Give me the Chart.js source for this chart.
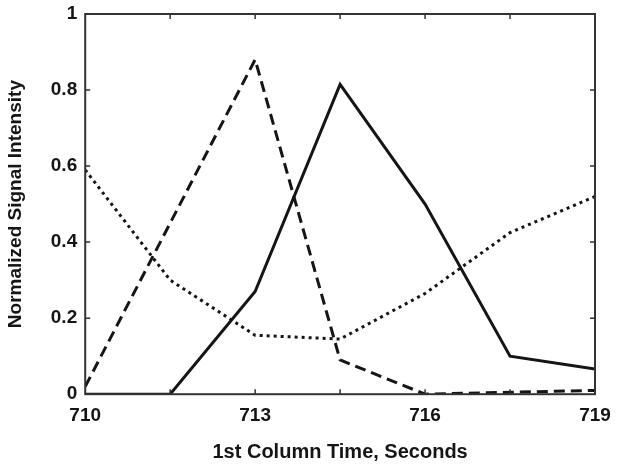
<!DOCTYPE html>
<html>
<head>
<meta charset="utf-8">
<script src="https://cdn.jsdelivr.net/npm/chart.js@4/dist/chart.umd.min.js"></script>
<style>
  html, body { margin: 0; padding: 0; background: #fff; }
  #wrap { width: 624px; height: 466px; }
</style>
</head>
<body>
<div id="wrap"><canvas id="signalChart"></canvas></div>
<script>
// Retention times (s) on the first column
const times = [710, 711.5, 713, 714.5, 716, 717.5, 719];
// Normalized intensities
const dashedSeries = [0.02, 0.45, 0.88, 0.09, 0.0, 0.005, 0.01];
const solidSeries  = [0.0, 0.0, 0.27, 0.815, 0.50, 0.10, 0.066];
const dottedSeries = [0.59, 0.30, 0.155, 0.145, 0.265, 0.425, 0.52];

const xTickLabels = [710, 713, 716, 719];
const xMinorTicks = [711.5, 713, 714.5, 716, 717.5];
const yTickLabels = [0, 0.2, 0.4, 0.6, 0.8, 1];

const INK = '#151515';
const FONT = "'Liberation Sans', Arial, sans-serif";

function toPoints(ys) {
    return times.map((t, i) => ({ x: t, y: ys[i] }));
}

// Draws the frame box and inward tick marks like the old Matlab axes
const boxPlugin = {
    id: 'boxPlugin',
    afterDatasetsDraw(chart) {
        const { ctx, chartArea: a, scales } = chart;
        ctx.save();
        ctx.strokeStyle = '#333';
        ctx.lineWidth = 2;
        ctx.strokeRect(a.left, a.top, a.right - a.left, a.bottom - a.top);
        ctx.lineWidth = 1.5;
        ctx.beginPath();
        xMinorTicks.forEach(v => {
            const px = scales.x.getPixelForValue(v);
            ctx.moveTo(px, a.top); ctx.lineTo(px, a.top + 5);
            ctx.moveTo(px, a.bottom); ctx.lineTo(px, a.bottom - 5);
        });
        yTickLabels.slice(1, -1).forEach(v => {
            const py = scales.y.getPixelForValue(v);
            ctx.moveTo(a.left, py); ctx.lineTo(a.left + 5, py);
            ctx.moveTo(a.right, py); ctx.lineTo(a.right - 5, py);
        });
        ctx.stroke();
        ctx.restore();
    }
};

const lineStyle = { borderColor: INK, borderWidth: 3, pointRadius: 0, tension: 0, fill: false };

new Chart(document.getElementById('signalChart'), {
    type: 'line',
    data: {
        datasets: [
            { ...lineStyle, label: 'dashed', data: toPoints(dashedSeries), borderDash: [11, 6] },
            { ...lineStyle, label: 'solid', data: toPoints(solidSeries) },
            { ...lineStyle, label: 'dotted', data: toPoints(dottedSeries), borderDash: [3, 4] }
        ]
    },
    options: {
        responsive: true,
        maintainAspectRatio: false,
        animation: false,
        layout: { padding: { top: 14, right: 29, left: 4, bottom: 2 } },
        plugins: {
            legend: { display: false },
            tooltip: { enabled: false }
        },
        scales: {
            x: {
                type: 'linear',
                min: 710,
                max: 719,
                afterBuildTicks: axis => { axis.ticks = xTickLabels.map(v => ({ value: v })); },
                grid: { display: false },
                border: { display: false },
                ticks: {
                    color: INK,
                    padding: 2,
                    maxRotation: 0,
                    font: { family: FONT, size: 19, weight: 'bold' }
                },
                title: {
                    display: true,
                    text: '1st Column Time, Seconds',
                    color: INK,
                    padding: { top: 11, bottom: 0 },
                    font: { family: FONT, size: 20, weight: 'bold' }
                }
            },
            y: {
                min: 0,
                max: 1,
                afterBuildTicks: axis => { axis.ticks = yTickLabels.map(v => ({ value: v })); },
                grid: { display: false },
                border: { display: false },
                ticks: {
                    color: INK,
                    padding: 0,
                    callback: v => String(v),
                    font: { family: FONT, size: 19, weight: 'bold' }
                },
                title: {
                    display: true,
                    text: 'Normalized Signal Intensity',
                    color: INK,
                    padding: { top: 0, bottom: 24 },
                    font: { family: FONT, size: 19, weight: 'bold' }
                }
            }
        }
    },
    plugins: [boxPlugin]
});
</script>
</body>
</html>
